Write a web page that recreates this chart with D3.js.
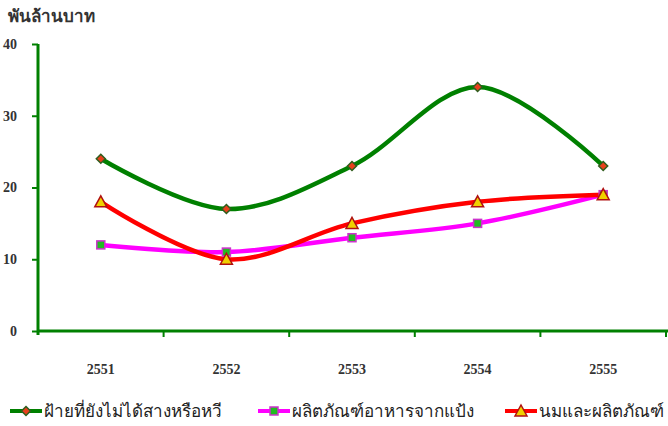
<!DOCTYPE html>
<html><head><meta charset="utf-8">
<script src="https://cdn.jsdelivr.net/npm/d3@7"></script>
<style>body{margin:0;background:#fff}svg{display:block}</style>
</head><body>
<svg id="c" width="668" height="426"></svg>
<script>
const years = ["2551","2552","2553","2554","2555"];
const cotton = [24,17,23,34,23];
const flour = [12,11,13,15,19];
const milk = [18,10,15,18,19];
const yTicks = [0,10,20,30,40];
const seriesNames = ["ฝ้ายที่ยังไม่ได้สางหรือหวี","ผลิตภัณฑ์อาหารจากแป้ง","นมและผลิตภัณฑ์"];

const svg = d3.select("#c");
const font = "Liberation Serif, DejaVu Serif, serif";
const x = d3.scaleBand().domain(years).range([38,666]);
const y = d3.scaleLinear().domain([0,40]).range([331,44]);
const green = "#008000";

svg.append("text").attr("x",8).attr("y",22).attr("font-family",font).attr("font-weight","bold")
  .attr("font-size",17).attr("fill","#333").text("พันล้านบาท");

// y axis
const ya = svg.append("g").attr("transform","translate(38,0)")
  .call(d3.axisLeft(y).tickValues(yTicks).tickSize(6).tickPadding(15).tickFormat(d3.format("d")));
ya.select(".domain").attr("stroke",green).attr("stroke-width",3).attr("d","M0,44V335");
ya.selectAll(".tick line").attr("stroke",green).attr("stroke-width",2);
ya.selectAll(".tick text").attr("font-family",font).attr("font-weight","bold").attr("font-size",14).attr("fill","#333");

// x axis
const xa = svg.append("g").attr("transform","translate(0,331)")
  .call(d3.axisBottom(x).tickSize(0).tickPadding(33));
xa.select(".domain").attr("stroke",green).attr("stroke-width",3).attr("d","M38,0H668");
xa.selectAll(".tick text").attr("font-family",font).attr("font-weight","bold").attr("font-size",14).attr("fill","#333");
const bounds = years.map(d=>x(d)).concat([x(years[years.length-1])+x.bandwidth()]);
svg.append("g").selectAll("line").data(bounds.slice(1)).join("line")
  .attr("x1",d=>d).attr("x2",d=>d).attr("y1",331).attr("y2",337)
  .attr("stroke",green).attr("stroke-width",2);

const cx = d => x(d)+x.bandwidth()/2;
const line = d3.line().x((d,i)=>cx(years[i])).y(d=>y(d)).curve(d3.curveCatmullRom.alpha(0.5));

const series = [
  {vals:cotton,color:"#008000",marker:"diamond"},
  {vals:flour,color:"#ff00ff",marker:"square"},
  {vals:milk,color:"#ff0000",marker:"triangle"}
];

function drawMarker(g,type,px,py){
  if(type==="diamond"){
    g.append("path").attr("d",`M${px},${py-4.5}L${px+4.5},${py}L${px},${py+4.5}L${px-4.5},${py}Z`)
      .attr("fill","#e8401c").attr("stroke","#2e5e1e").attr("stroke-width",1.5);
  } else if(type==="square"){
    g.append("rect").attr("x",px-4).attr("y",py-4).attr("width",8).attr("height",8)
      .attr("fill","#22bb22").attr("stroke","#cc33cc").attr("stroke-width",1.5);
  } else {
    g.append("path").attr("d",`M${px},${py-6}L${px+6},${py+5}L${px-6},${py+5}Z`)
      .attr("fill","#f0d000").attr("stroke","#b01010").attr("stroke-width",1.5);
  }
}

series.forEach(s=>{
  svg.append("path").attr("d",line(s.vals)).attr("fill","none").attr("stroke",s.color).attr("stroke-width",4.5);
});
series.forEach(s=>{
  const g = svg.append("g");
  s.vals.forEach((v,i)=>drawMarker(g,s.marker,cx(years[i]),y(v)));
});

// legend
const legX = [10,258,505];
series.forEach((s,i)=>{
  const g = svg.append("g");
  g.append("line").attr("x1",legX[i]).attr("x2",legX[i]+32).attr("y1",411).attr("y2",411)
    .attr("stroke",s.color).attr("stroke-width",4);
  drawMarker(g,s.marker,legX[i]+16,411);
  g.append("text").attr("x",legX[i]+34).attr("y",417).attr("font-family",font)
    .attr("font-size",17).attr("fill","#222").text(seriesNames[i]);
});
</script>
</body></html>
